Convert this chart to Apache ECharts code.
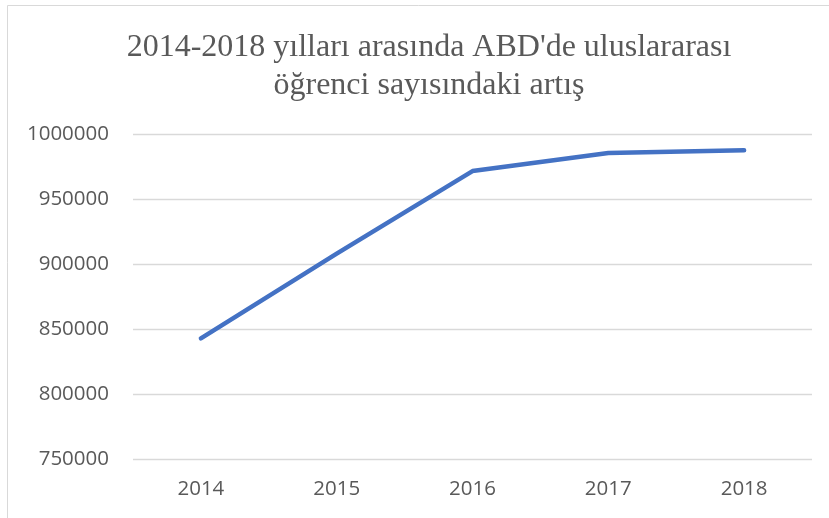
<!DOCTYPE html>
<html>
<head>
<meta charset="utf-8">
<script src="https://cdn.jsdelivr.net/npm/echarts@6/dist/echarts.min.js"></script>
<style>
  html, body { margin: 0; padding: 0; background: #fff; }
  #chart { width: 829px; height: 518px; }
</style>
</head>
<body>
<div id="chart"></div>
<script>
// veriler
const years = ["2014", "2015", "2016", "2017", "2018"];
const students = [842800, 908000, 971500, 985400, 987500];
const titleLines = ["2014-2018 yılları arasında ABD'de uluslararası", "öğrenci sayısındaki artış"];

const chart = echarts.init(document.getElementById("chart"));

const option = {
    backgroundColor: "#fff",
    animation: false,
    graphic: [
        {
            // çerçeve
            type: "rect",
            shape: { x: 7.5, y: 5.5, width: 900, height: 600 },
            style: { fill: "none", stroke: "#d9d9d9", lineWidth: 1 },
            silent: true
        }
    ],
    title: {
        text: titleLines.join("\n"),
        left: 424,
        top: 24,
        textAlign: "center",
        textStyle: {
            fontFamily: "Liberation Serif",
            fontSize: 32,
            fontWeight: "normal",
            color: "#595959",
            lineHeight: 37.5
        }
    },
    grid: {
        left: 133,
        right: 17,
        top: 134,
        bottom: 59,
        containLabel: false
    },
    xAxis: {
        type: "category",
        data: years,
        boundaryGap: true,
        axisLine: { show: false },
        axisTick: { show: false },
        axisLabel: {
            margin: 20,
            fontFamily: "Open Sans",
            fontSize: 20.5,
            color: "#595959"
        }
    },
    yAxis: {
        type: "value",
        min: 750000,
        max: 1000000,
        interval: 50000,
        axisLine: { show: false },
        axisTick: { show: false },
        axisLabel: {
            margin: 24,
            fontFamily: "Open Sans",
            fontSize: 20.5,
            color: "#595959",
            formatter: (v) => String(v)
        },
        splitLine: {
            lineStyle: { color: "#d9d9d9", width: 1.3 }
        }
    },
    series: [
        {
            type: "line",
            data: students,
            showSymbol: false,
            lineStyle: {
                color: "#4472C4",
                width: 4.5,
                cap: "round",
                join: "round"
            }
        }
    ]
};

chart.setOption(option);
</script>
</body>
</html>
